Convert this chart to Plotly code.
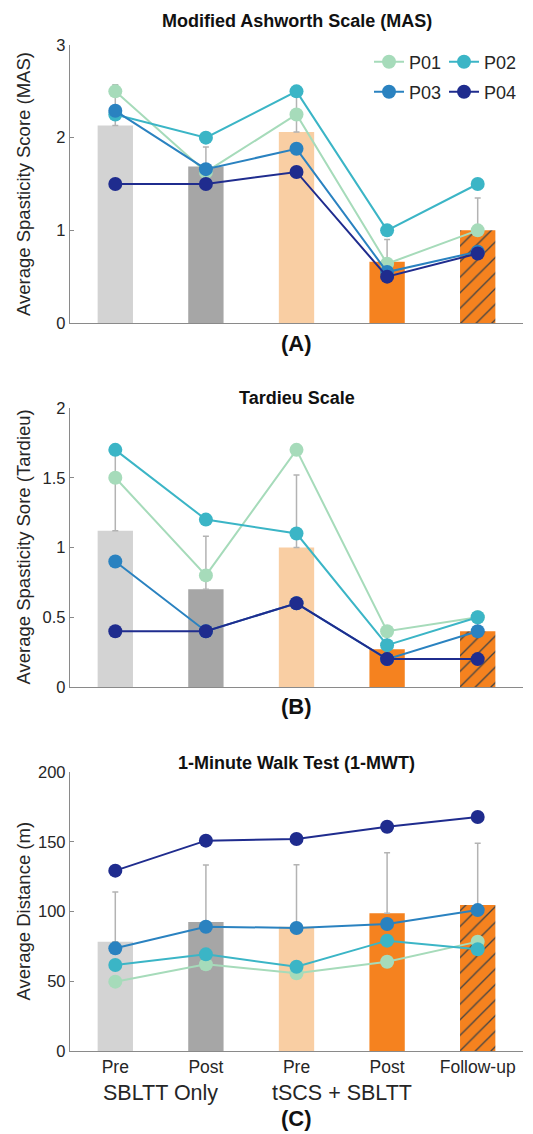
import plotly.graph_objects as go

# ---------------- data ----------------
categories = [1, 2, 3, 4, 5]
tick_labels = ["Pre", "Post", "Pre", "Post", "Follow-up"]
group_labels = ["SBLTT Only", "tSCS + SBLTT"]
group_centers = [1.5, 3.5]
participants = ["P01", "P02", "P03", "P04"]

mas_mean = [2.13, 1.69, 2.06, 0.66, 1.00]
mas_sd = [0.44, 0.21, 0.39, 0.24, 0.35]
mas_p01 = [2.50, 1.63, 2.25, 0.64, 1.00]
mas_p02 = [2.25, 2.00, 2.50, 1.00, 1.50]
mas_p03 = [2.29, 1.66, 1.88, 0.55, 0.77]
mas_p04 = [1.50, 1.50, 1.63, 0.50, 0.75]

tar_mean = [1.12, 0.70, 1.00, 0.27, 0.40]
tar_sd = [0.59, 0.38, 0.52, 0.10, 0.14]
tar_p01 = [1.50, 0.80, 1.70, 0.40, 0.50]
tar_p02 = [1.70, 1.20, 1.10, 0.30, 0.50]
tar_p03 = [0.90, 0.40, 0.60, 0.20, 0.40]
tar_p04 = [0.40, 0.40, 0.60, 0.20, 0.20]

mwt_mean = [78.4, 92.5, 89.0, 98.7, 104.7]
mwt_sd = [35.6, 40.8, 44.6, 43.5, 44.2]
mwt_p01 = [49.7, 62.1, 55.7, 64.0, 78.4]
mwt_p02 = [61.6, 69.3, 60.4, 79.1, 72.9]
mwt_p03 = [73.6, 89.1, 88.2, 91.0, 101.0]
mwt_p04 = [129.3, 150.8, 152.0, 160.8, 167.7]

titles = ["Modified Ashworth Scale (MAS)", "Tardieu Scale", "1-Minute Walk Test (1-MWT)"]
y_titles = ["Average Spasticity Score (MAS)", "Average Spasticity Sore (Tardieu)", "Average Distance (m)"]
panel_labels = ["(A)", "(B)", "(C)"]

# ---------------- styles ----------------
W, H = 533, 1134
FONT = "Liberation Sans, Arial, Helvetica, sans-serif"
TXT = "#262626"
AXC = "#8a8a8a"
bar_colors = ["#d3d3d3", "#a6a6a6", "#f9cea3", "#f5821f", "#f5821f"]
bar_shapes = ["", "", "", "", "/"]
p_colors = ["#a6dbba", "#3bb5c6", "#2a82c0", "#1f2c8e"]

def px_x(p):
    return p / W

def px_y(p):
    return 1 - p / H

x_dom = [px_x(70), px_x(523)]
y_doms = [
    [px_y(323), px_y(45)],
    [px_y(687), px_y(408)],
    [px_y(1051), px_y(772)],
]

panels = [
    (mas_mean, mas_sd, [mas_p01, mas_p02, mas_p03, mas_p04], [0, 3], 1),
    (tar_mean, tar_sd, [tar_p01, tar_p02, tar_p03, tar_p04], [0, 2], 0.5),
    (mwt_mean, mwt_sd, [mwt_p01, mwt_p02, mwt_p03, mwt_p04], [0, 200], 50),
]

fig = go.Figure()

for i, (mean, sd, ps, yr, dt) in enumerate(panels):
    xa = "x" if i == 0 else f"x{i+1}"
    ya = "y" if i == 0 else f"y{i+1}"
    fig.add_trace(go.Bar(
        x=categories, y=mean, width=0.39,
        marker=dict(
            color=bar_colors, line=dict(width=0),
            pattern=dict(shape=bar_shapes, fgcolor="#1a1a1a", fgopacity=1,
                         size=11, solidity=0.12, fillmode="overlay"),
        ),
        error_y=dict(type="data", symmetric=False, array=sd,
                     arrayminus=[0] * len(sd), color="#b3b3b3", thickness=1.5, width=3),
        showlegend=False, xaxis=xa, yaxis=ya, hoverinfo="skip",
    ))
    for j, vals in enumerate(ps):
        leg = "legend" if j == 0 else f"legend{j+1}"
        fig.add_trace(go.Scatter(
            x=categories, y=vals, mode="lines+markers", name=participants[j],
            line=dict(color=p_colors[j], width=2),
            marker=dict(color=p_colors[j], size=14),
            showlegend=(i == 0), legend=leg, xaxis=xa, yaxis=ya,
        ))

layout = dict(
    width=W, height=H, autosize=False,
    margin=dict(l=0, r=0, t=0, b=0, pad=0),
    paper_bgcolor="white", plot_bgcolor="white",
    font=dict(family=FONT, color=TXT, size=16),
    barmode="overlay",
)

for i in range(3):
    xk = "xaxis" if i == 0 else f"xaxis{i+1}"
    yk = "yaxis" if i == 0 else f"yaxis{i+1}"
    ya = "y" if i == 0 else f"y{i+1}"
    xa = "x" if i == 0 else f"x{i+1}"
    yr, dt = panels[i][3], panels[i][4]
    layout[xk] = dict(
        domain=x_dom, anchor=ya, range=[0.5, 5.5],
        tickmode="array", tickvals=categories,
        ticktext=tick_labels, showticklabels=(i == 2),
        tickfont=dict(size=17.5, color=TXT),
        showline=True, linecolor=AXC, linewidth=1.3,
        ticks="", showgrid=False, zeroline=False, automargin=False,
    )
    layout[yk] = dict(
        domain=y_doms[i], anchor=xa, range=yr, dtick=dt, tick0=0,
        showline=True, linecolor=AXC, linewidth=1.3,
        ticks="inside", ticklen=4, tickcolor=AXC,
        tickfont=dict(size=16.5, color=TXT),
        showgrid=False, zeroline=False, automargin=False,
    )

# legends: one entry each, placed in a 2x2 grid
leg_pos = [(369, 62), (444, 62), (369, 92), (444, 92)]
for j, (lx, ly) in enumerate(leg_pos):
    key = "legend" if j == 0 else f"legend{j+1}"
    layout[key] = dict(
        x=px_x(lx), y=px_y(ly), xanchor="left", yanchor="middle",
        bgcolor="rgba(0,0,0,0)", borderwidth=0,
        font=dict(size=18, color=TXT), orientation="h",
        itemsizing="trace", tracegroupgap=0,
    )

annotations = []
title_y = [21, 398, 763]
label_y = [343, 706, 1118]
ytitle_y = [184, 547.5, 911.5]
for i in range(3):
    xa = "x" if i == 0 else f"x{i+1}"
    annotations.append(dict(
        text=f"<b>{titles[i]}</b>", x=3, xref=xa, y=px_y(title_y[i]), yref="paper",
        showarrow=False, xanchor="center", yanchor="middle",
        font=dict(size=18, color="#111111"),
    ))
    annotations.append(dict(
        text=f"<b>{panel_labels[i]}</b>", x=3, xref=xa, y=px_y(label_y[i]), yref="paper",
        showarrow=False, xanchor="center", yanchor="middle",
        font=dict(size=22, color="#111111"),
    ))
    annotations.append(dict(
        text=y_titles[i], x=px_x(23), xref="paper", y=px_y(ytitle_y[i]), yref="paper",
        showarrow=False, xanchor="center", yanchor="middle", textangle=-90,
        font=dict(size=18.5, color=TXT),
    ))
for g, gx in zip(group_labels, group_centers):
    annotations.append(dict(
        text=g, x=gx, xref="x3", y=px_y(1093), yref="paper",
        showarrow=False, xanchor="center", yanchor="middle",
        font=dict(size=21.5, color=TXT),
    ))
layout["annotations"] = annotations

fig.update_layout(**layout)
fig.write_html(
    "out.html",
    config={"displayModeBar": False},
    post_script="document.body.style.margin='0';document.body.style.overflow='hidden';",
)
